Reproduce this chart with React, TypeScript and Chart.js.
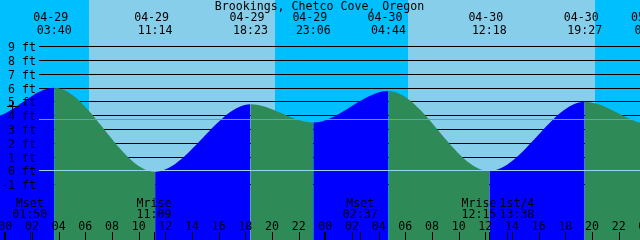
import React, { useEffect, useRef } from "react";
import { Chart, registerables } from "chart.js";

Chart.register(...registerables);

const TITLE = "Brookings, Chetco Cove, Oregon";
const DAYS = ["04-28", "04-29", "04-30", "05-01"]; // 04-29 00:00 is hour 0

// Tide extremes (high / low) with heights in feet
const tideDates = ["04-28", "04-28", "04-29", "04-29", "04-29", "04-29", "04-30", "04-30", "04-30", "05-01", "05-01"];
const tideTimes = ["17:00", "22:48", "03:40", "11:14", "18:23", "23:06", "04:44", "12:18", "19:27", "00:30", "06:10"];
const tideHeights = [5.0, 3.85, 6.03, -0.05, 4.83, 3.51, 5.79, 0.0, 5.02, 3.35, 5.7];

// Sunrise / sunset pairs
const sunDates = ["04-29", "04-29", "04-30", "04-30"];
const sunTimes = ["06:16", "20:13", "06:12", "20:13"];

// Moon events
const moonNames = ["Mset", "Mrise", "Mset", "Mrise", "1st/4"];
const moonDates = ["04-29", "04-29", "04-30", "04-30", "04-30"];
const moonTimes = ["01:50", "11:09", "02:37", "12:15", "13:38"];

const depthTicks = [-1, 0, 1, 2, 3, 4, 5, 6, 7, 8, 9];
const hourTicks = [0, 2, 4, 6, 8, 10, 12, 14, 16, 18, 20, 22, 24, 26, 28, 30, 32, 34, 36, 38, 40, 42, 44, 46, 48];
const meanLevel = 3.7;
const markDate = "04-29";
const markTime = "00:30";
const markLevel = 4.67;

const X_MIN = -0.4;
const X_MAX = 47.6;
const Y_MIN = -5;
const Y_MAX = 12.38;

const FONT = '11.6px "DejaVu Sans Mono"';
const NIGHT = "#00bfff";
const DAY = "#87ceeb";
const RISING = "#0000ff";
const FALLING = "#2e8b57";
const MEAN_COLOR = "#5aa89e";
const DATUM_COLOR = "#9ad4ea";

function toHours(date: string, time: string): number {
  const d = DAYS.indexOf(date) - 1;
  const [hh, mm] = time.split(":").map(Number);
  return d * 24 + hh + mm / 60;
}

const tideHours = tideDates.map((d, i) => toHours(d, tideTimes[i]));
const sunHours = sunDates.map((d, i) => toHours(d, sunTimes[i]));
const moonHours = moonDates.map((d, i) => toHours(d, moonTimes[i]));

const decorPlugin = {
  id: "tideDecor",
  beforeDraw(chart: any) {
    const { ctx, width, height } = chart;
    const xs = chart.scales.x;
    const ys = chart.scales.y;
    ctx.save();
    ctx.fillStyle = NIGHT;
    ctx.fillRect(0, 0, width, height);
    ctx.fillStyle = DAY;
    for (let i = 0; i + 1 < sunHours.length; i += 2) {
      const a = Math.round(xs.getPixelForValue(sunHours[i]));
      const b = Math.round(xs.getPixelForValue(sunHours[i + 1]));
      ctx.fillRect(a, 0, b - a, height);
    }
    // depth grid lines (behind the tide)
    ctx.fillStyle = "#000";
    for (const d of depthTicks) {
      if (d === 0) continue;
      const y = Math.floor(ys.getPixelForValue(d));
      ctx.fillRect(39, y, width - 39, 1);
    }
    ctx.restore();
  },
  afterDatasetsDraw(chart: any) {
    const { ctx, width, height } = chart;
    const xs = chart.scales.x;
    const ys = chart.scales.y;
    ctx.save();
    // mean level and datum lines
    const lines: [number, string][] = [[meanLevel, MEAN_COLOR], [0, DATUM_COLOR]];
    for (const [v, c] of lines) {
      const y = Math.floor(ys.getPixelForValue(v));
      ctx.fillStyle = c;
      ctx.fillRect(39, y, width - 39, 1);
    }

    ctx.font = FONT;
    ctx.fillStyle = "#000";
    ctx.textBaseline = "alphabetic";

    // depth labels
    ctx.textAlign = "right";
    for (const d of depthTicks) {
      const y = Math.floor(ys.getPixelForValue(d));
      ctx.fillText(`${d} ft`, 36, y + 4.5);
    }

    // small + mark
    const mx = Math.round(xs.getPixelForValue(toHours(markDate, markTime)));
    const my = Math.floor(ys.getPixelForValue(markLevel));
    ctx.fillRect(mx - 5, my, 12, 1);
    ctx.fillRect(mx, my - 5, 1, 11);

    // title
    ctx.textAlign = "center";
    ctx.fillText(TITLE, 319.5, 10);

    // tide event labels
    tideHours.forEach((h, i) => {
      if (h < 0) return;
      const x = xs.getPixelForValue(h);
      ctx.fillText(tideDates[i], x - 3.5, 21);
      ctx.fillText(tideTimes[i], x, 34);
    });

    // moon labels with overlap avoidance
    const centers = moonHours.map((h) => xs.getPixelForValue(h));
    const minGap = 38;
    for (let i = 0; i + 1 < centers.length; i++) {
      const gap = centers[i + 1] - centers[i];
      if (gap < minGap) {
        const mid = (centers[i] + centers[i + 1]) / 2;
        centers[i] = mid - minGap / 2;
        centers[i + 1] = mid + minGap / 2;
      }
    }
    moonNames.forEach((n, i) => {
      ctx.fillText(n, centers[i], 206.5);
      ctx.fillText(moonTimes[i], centers[i], 217.5);
    });

    // hour ticks & labels
    for (const h of hourTicks) {
      const x = xs.getPixelForValue(h);
      const lbl = String(h % 24).padStart(2, "0");
      ctx.fillText(lbl, x, 229.5);
      const midnight = h % 24 === 0;
      const px = Math.round(x) - (midnight ? 1 : 0);
      ctx.fillRect(px, 232, midnight ? 2 : 1, height - 232);
    }
    for (const h of moonHours) {
      const px = Math.round(xs.getPixelForValue(h));
      ctx.fillRect(px, 232, 1, height - 232);
    }
    ctx.restore();
  },
};

export default function App() {
  const ref = useRef<HTMLCanvasElement | null>(null);
  useEffect(() => {
    if (!ref.current) return;
    const chart = new Chart(ref.current, {
      type: "line",
      data: {
        datasets: [
          {
            data: tideHours.map((x, i) => ({ x, y: tideHeights[i] })),
            borderColor: "rgba(0,0,0,0)",
            borderWidth: 0,
            pointRadius: 0,
            fill: "start",
            backgroundColor: FALLING,
            cubicInterpolationMode: "monotone",
            capBezierPoints: false,
            segment: {
              backgroundColor: (c: any) => (c.p1.parsed.y >= c.p0.parsed.y ? RISING : FALLING),
            },
          } as any,
        ],
      },
      options: {
        responsive: false,
        animation: false,
        devicePixelRatio: 1,
        layout: { padding: 0 },
        plugins: { legend: { display: false }, tooltip: { enabled: false } },
        events: [],
        scales: {
          x: { type: "linear", min: X_MIN, max: X_MAX, display: false },
          y: { type: "linear", min: Y_MIN, max: Y_MAX, display: false },
        },
      },
      plugins: [decorPlugin],
    });
    return () => chart.destroy();
  }, []);
  return (
    <div style={{ position: "fixed", left: 0, top: 0, width: 640, height: 240 }}>
      <canvas ref={ref} width={640} height={240} style={{ display: "block" }} />
    </div>
  );
}
